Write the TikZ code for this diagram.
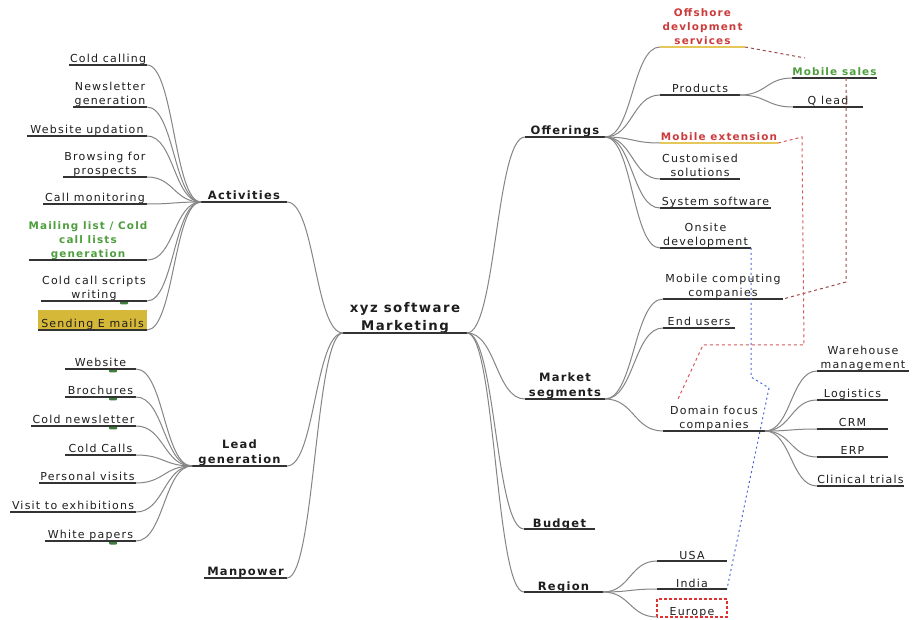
\documentclass[tikz,border=0pt]{standalone}
\usepackage{fontspec}
\setmainfont{DejaVu Sans}[LetterSpace=11]
\usetikzlibrary{calc}
\definecolor{txt}{HTML}{1E1E1E}
\definecolor{ln}{HTML}{858585}
\definecolor{ul}{HTML}{333333}
\definecolor{redt}{HTML}{CC3B3B}
\definecolor{greent}{HTML}{4E9E3E}
\definecolor{gold}{HTML}{D6B838}
\definecolor{yul}{HTML}{E6C85A}
\definecolor{lkbrown}{HTML}{9A4A4A}
\definecolor{lkred}{HTML}{D85A5A}
\definecolor{boxred}{HTML}{E03030}
\definecolor{lkblue}{HTML}{4A68D8}
\definecolor{mkgreen}{HTML}{3E7E3E}
\tikzset{
  topic/.style={anchor=south, inner xsep=0pt, inner ysep=2pt, outer sep=0pt,
    text depth=0pt, align=center, text=txt, font=\fontsize{11}{14.2}\selectfont},
  main/.style={topic, font=\fontsize{11.5}{15}\selectfont\bfseries},
  rootnode/.style={topic, font=\fontsize{13.3}{18}\selectfont\bfseries},
  hot/.style={text=redt, font=\fontsize{10.4}{14}\selectfont\bfseries},
  good/.style={text=greent, font=\fontsize{10.4}{14}\selectfont\bfseries},
  conn/.style={draw=ln, line width=1pt},
  uline/.style={draw=ul, line width=1.3pt},
  yline/.style={draw=yul, line width=1.3pt},
  lk/.style={line width=1pt, dash pattern=on 3pt off 3pt},
  dotlk/.style={line width=1pt, dash pattern=on 2pt off 3pt},
}
\newcommand\hcon[2]{\draw[conn] let \p1=(#1), \p2=(#2), \n1={0.5*(\x2-\x1)}, \n2={-0.5*(\x2-\x1)} in (\p1) .. controls +(\n1,0) and +(\n2,0) .. (\p2);}
\begin{document}
\begin{tikzpicture}[x=1pt,y=-1pt]
\useasboundingbox[fill=white] (0,0) rectangle (914,620);
% root
\node[rootnode, minimum width=124pt] (root) at (405,333) {xyz software\\Marketing};
% left main
\node[main, minimum width=86pt] (act) at (244,202) {Activities};
\node[main, minimum width=95pt] (lead) at (239.5,466) {Lead\\generation};
\node[main, minimum width=83pt] (man) at (245.5,578) {Manpower};
% right main
\node[main, minimum width=80pt] (off) at (565,137) {Offerings};
\node[main, minimum width=80pt] (ms) at (565,399) {Market\\segments};
\node[main, minimum width=71pt] (bud) at (559.5,529) {Budget};
\node[main, minimum width=79pt] (reg) at (563.5,592) {Region};
% activities children
\node[topic, minimum width=78pt] (cc) at (108,65) {Cold calling};
\node[topic, minimum width=74pt] (nl) at (110,107) {Newsletter\\generation};
\node[topic, minimum width=120pt] (wu) at (87,136) {Website updation};
\node[topic, minimum width=84pt] (bp) at (105,177) {Browsing for\\prospects};
\node[topic, minimum width=104pt] (cm) at (95,204) {Call monitoring};
\node[topic, good, minimum width=118pt] (ml) at (88,260) {Mailing list / Cold\\call lists\\generation};
\fill[mkgreen, rounded corners=1pt] (120,301) rectangle (128,304.5);
\node[topic, minimum width=106pt] (cs) at (94,301) {Cold call scripts\\writing};
\node[topic, minimum width=109pt, fill=gold, text height=16pt] (se) at (92.5,330) {Sending E mails};
% lead children
\foreach \yy in {369,397,426,541} \fill[mkgreen, rounded corners=1pt] (109,\yy) rectangle (117,\yy+3.5);
\node[topic, minimum width=71pt] (lw) at (100.5,369) {Website};
\node[topic, minimum width=71pt] (lb) at (100.5,397) {Brochures};
\node[topic, minimum width=105pt] (lcn) at (83.5,426) {Cold newsletter};
\node[topic, minimum width=71pt] (lcc) at (100.5,455) {Cold Calls};
\node[topic, minimum width=97pt] (lpv) at (87.5,483) {Personal visits};
\node[topic, minimum width=126pt] (lve) at (73,512) {Visit to exhibitions};
\node[topic, minimum width=91pt] (lwp) at (90.5,541) {White papers};
% offerings children
\node[topic, hot, minimum width=85pt] (ods) at (702.5,47) {Offshore\\devlopment\\services};
\node[topic, minimum width=80pt] (prod) at (700,95) {Products};
\node[topic, good, minimum width=83pt] (msales) at (834.5,78) {Mobile sales};
\node[topic, minimum width=70pt] (ql) at (828,107) {Q lead};
\node[topic, hot, minimum width=118pt] (mext) at (719,143) {Mobile extension};
\node[topic, minimum width=80pt] (cust) at (700,179) {Customised\\solutions};
\node[topic, minimum width=111pt] (sys) at (715.5,208) {System software};
\node[topic, minimum width=91pt] (ons) at (705.5,248) {Onsite\\development};
% market segments children
\node[topic, minimum width=120pt] (mcc) at (723,299) {Mobile computing\\companies};
\node[topic, minimum width=72pt] (eu) at (699,328) {End users};
\node[topic, minimum width=102pt] (dfc) at (714,431) {Domain focus\\companies};
\node[topic, minimum width=92pt] (wm) at (863,371) {Warehouse\\management};
\node[topic, minimum width=71pt] (log) at (852.5,400) {Logistics};
\node[topic, minimum width=71pt] (crm) at (852.5,429) {CRM};
\node[topic, minimum width=71pt] (erp) at (852.5,457) {ERP};
\node[topic, minimum width=87pt] (ct) at (860.5,486) {Clinical trials};
% region children
\node[topic, minimum width=70pt] (usa) at (692,561) {USA};
\node[topic, minimum width=70pt] (ind) at (692,589) {India};
\node[topic, minimum width=70pt, text height=14pt] (eur) at (692,617) {Europe};
\draw[draw=boxred, line width=1.3pt, dash pattern=on 3pt off 2pt] (eur.south west) rectangle (eur.north east);
% underlines
\foreach \n in {root,act,lead,man,off,ms,bud,reg,cc,nl,wu,bp,cm,ml,cs,se,lw,lb,lcn,lcc,lpv,lve,lwp,prod,msales,ql,cust,sys,ons,mcc,eu,dfc,wm,log,crm,erp,ct,usa,ind}
  \draw[uline] (\n.south west) -- (\n.south east);
\foreach \n in {ods,mext} \draw[yline] (\n.south west) -- (\n.south east);
% connectors
\foreach \c in {act,lead,man} \hcon{root.south west}{\c.south east};
\foreach \c in {off,ms,bud,reg} \hcon{root.south east}{\c.south west};
\foreach \c in {cc,nl,wu,bp,cm,ml,cs,se} \hcon{act.south west}{\c.south east};
\foreach \c in {lw,lb,lcn,lcc,lpv,lve,lwp} \hcon{lead.south west}{\c.south east};
\foreach \c in {ods,prod,mext,cust,sys,ons} \hcon{off.south east}{\c.south west};
\foreach \c in {msales,ql} \hcon{prod.south east}{\c.south west};
\foreach \c in {mcc,eu,dfc} \hcon{ms.south east}{\c.south west};
\foreach \c in {wm,log,crm,erp,ct} \hcon{dfc.south east}{\c.south west};
\foreach \c in {usa,ind,eur} \hcon{reg.south east}{\c.south west};
% links
\coordinate (lkA) at (805,58);
\draw[lk, draw=lkbrown] (ods.south east) -- (lkA);
\coordinate (lkB) at (846,282);
\draw[lk, draw=lkbrown] (msales.south -| lkB) -- (lkB) -- (mcc.south east);
\coordinate (lkC1) at (802,137);
\coordinate (lkC2) at (804,345);
\coordinate (lkC3) at (703,345);
\coordinate (lkC4) at (678,399);
\draw[lk, draw=lkred] (mext.south east) -- (lkC1) -- (lkC2) -- (lkC3) -- (lkC4);
\coordinate (lkD1) at (752,377);
\coordinate (lkD2) at (769,388);
\draw[dotlk, draw=lkblue] (ons.south east) -- (ons.south east |- lkD1) -- (lkD2) -- (ind.south east);
\end{tikzpicture}
\end{document}
